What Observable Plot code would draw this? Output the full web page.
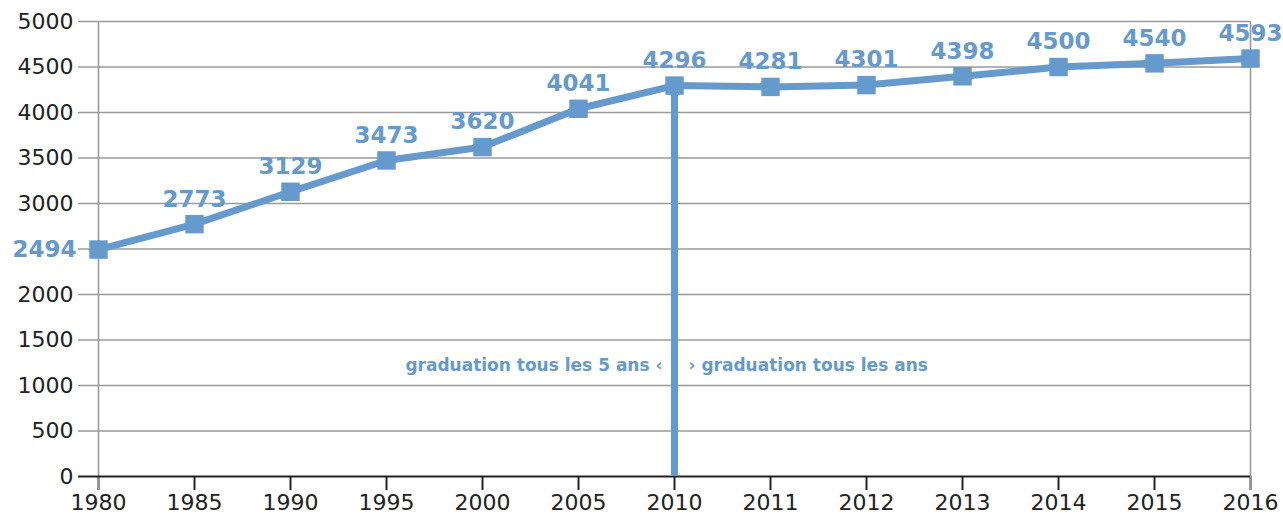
<!DOCTYPE html>
<html><head><meta charset="utf-8">
<script src="https://cdn.jsdelivr.net/npm/d3@7"></script>
<script src="https://cdn.jsdelivr.net/npm/@observablehq/plot@0.6"></script>
<style>
body{margin:0;background:#fff;}
svg{overflow:visible;}
</style>
</head><body>
<div id="chart"></div>
<script>
const years = ["1980","1985","1990","1995","2000","2005","2010","2011","2012","2013","2014","2015","2016"];
const values = [2494,2773,3129,3473,3620,4041,4296,4281,4301,4398,4500,4540,4593];
const yTicks = [0,500,1000,1500,2000,2500,3000,3500,4000,4500,5000];
const yTickLabels = [0,500,1000,1500,2000,3000,3500,4000,4500,5000];
const markerYear = "2010";
const noteLeft = "graduation tous les 5 ans \u2039";
const noteRight = "\u203A graduation tous les ans";
const noteLevel = 1220;

const blue = "#6699cc";
const grid = "#9a9a9a";
const data = years.map((y, i) => ({year: y, value: values[i]}));
const markerValue = values[years.indexOf(markerYear)];

const chart = Plot.plot({
  width: 1283,
  height: 515,
  marginTop: 21,
  marginBottom: 39,
  marginLeft: 97,
  marginRight: 33,
  style: {fontFamily: "DejaVu Sans", background: "#fff", overflow: "visible"},
  x: {type: "point", domain: years, padding: 0, label: null},
  y: {domain: [0, 5000], label: null},
  marks: [
    Plot.ruleY(yTicks.filter(d => d > 0), {stroke: grid, strokeWidth: 1.6, insetLeft: -19}),
    Plot.axisY({ticks: yTickLabels, tickFormat: d => String(d), tickSize: 0, tickPadding: 24, fontSize: 22, fill: "#222", letterSpacing: 1, label: null}),
    Plot.axisX({tickSize: 14, stroke: "#222", strokeWidth: 2, tickPadding: 4, fontSize: 22, fill: "#222", letterSpacing: 1, label: null}),
    Plot.ruleX([years[0], years[years.length - 1]], {stroke: grid, strokeWidth: 1.6, insetBottom: -14}),
    Plot.ruleY([0], {stroke: "#222", strokeWidth: 2, insetLeft: -19}),
    Plot.ruleX([markerYear], {y1: 0, y2: markerValue, stroke: blue, strokeWidth: 7}),
    Plot.text([noteLeft], {x: () => markerYear, y: () => noteLevel, text: d => d, textAnchor: "end", dx: -12, fill: blue, fontWeight: "bold", fontSize: 17, letterSpacing: 0.2}),
    Plot.text([noteRight], {x: () => markerYear, y: () => noteLevel, text: d => d, textAnchor: "start", dx: 14, fill: blue, fontWeight: "bold", fontSize: 17, letterSpacing: 0.2}),
    Plot.line(data, {x: "year", y: "value", stroke: blue, strokeWidth: 7}),
    Plot.dot(data, {x: "year", y: "value", symbol: "square", r: 10.4, fill: blue}),
    Plot.text(data.slice(0, 1), {x: "year", y: "value", text: d => String(d.value), textAnchor: "end", dx: -22, fill: blue, fontWeight: "bold", fontSize: 23, letterSpacing: 1.5}),
    Plot.text(data.slice(1), {x: "year", y: "value", text: d => String(d.value), dy: -25, fill: blue, fontWeight: "bold", fontSize: 23, letterSpacing: 1.5})
  ]
});
document.getElementById("chart").appendChild(chart);
</script>
</body></html>
